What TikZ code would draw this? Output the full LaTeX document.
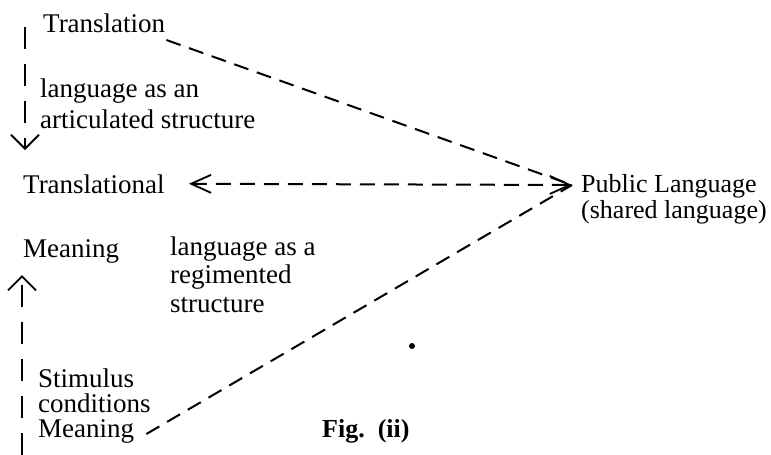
\documentclass[tikz,border=0pt]{standalone}
\usepackage{fontspec}
\setmainfont{Liberation Serif}
\usetikzlibrary{arrows.meta}
\begin{document}
\begin{tikzpicture}[x=1pt,y=-1pt,
  lbl/.style={anchor=base west, inner sep=0pt, font=\fontsize{27}{29}\selectfont},
  conn/.style={line width=2pt, dash pattern=on 15pt off 9pt},
  vconn/.style={line width=2pt, dash pattern=on 22pt off 15pt},
  htip/.tip={Straight Barb[length=20pt,width=18pt,line width=1.8pt]},
  vtip/.tip={Straight Barb[length=14pt,width=28pt,line width=1.8pt]}]
\useasboundingbox[fill=white] (0,0) rectangle (771,455);

% nodes (multi-line nodes are anchored at the baseline of their last line)
\node[lbl] (trans) at (43,32) {Translation};
\node[lbl, align=left, font=\fontsize{27}{31}\selectfont] (artic) at (40,128) {language as an\\articulated structure};
\node[lbl] (tional) at (23,193) {Translational};
\node[lbl, align=left, font=\fontsize{26}{26}\selectfont] (public) at (581,218) {Public Language\\(shared language)};
\node[lbl] (mean1) at (23,257) {Meaning};
\node[lbl, align=left, font=\fontsize{27}{28.5}\selectfont] (regim) at (170,312) {language as a\\regimented\\structure};
\node[lbl, align=left, font=\fontsize{27}{25}\selectfont] (stim) at (38,412) {Stimulus\\conditions};
\node[lbl] (mean2) at (38,437) {Meaning};
\node[lbl, font=\fontsize{26}{28}\selectfont\bfseries] (fig) at (322,437) {Fig.\ \ (ii)};
\fill (412,346) circle (3pt);

% free ends
\coordinate (hub) at (572,185);
\coordinate (topA) at (25,27);
\coordinate (topB) at (25,150);
\coordinate (botA) at (22,455);
\coordinate (botB) at (22,275);

% connectors
\draw[conn] ([xshift=1pt,yshift=-8pt]trans.base east) -- (hub);
\draw[conn, htip-htip] ([xshift=24pt]tional.east) -- (hub);
\draw[conn] ([xshift=12pt,yshift=3pt]mean2.base east) -- (hub);
\draw[vconn, -vtip] (topA) -- (topB);
\draw[vconn, -vtip] (botA) -- (botB);
\end{tikzpicture}
\end{document}
